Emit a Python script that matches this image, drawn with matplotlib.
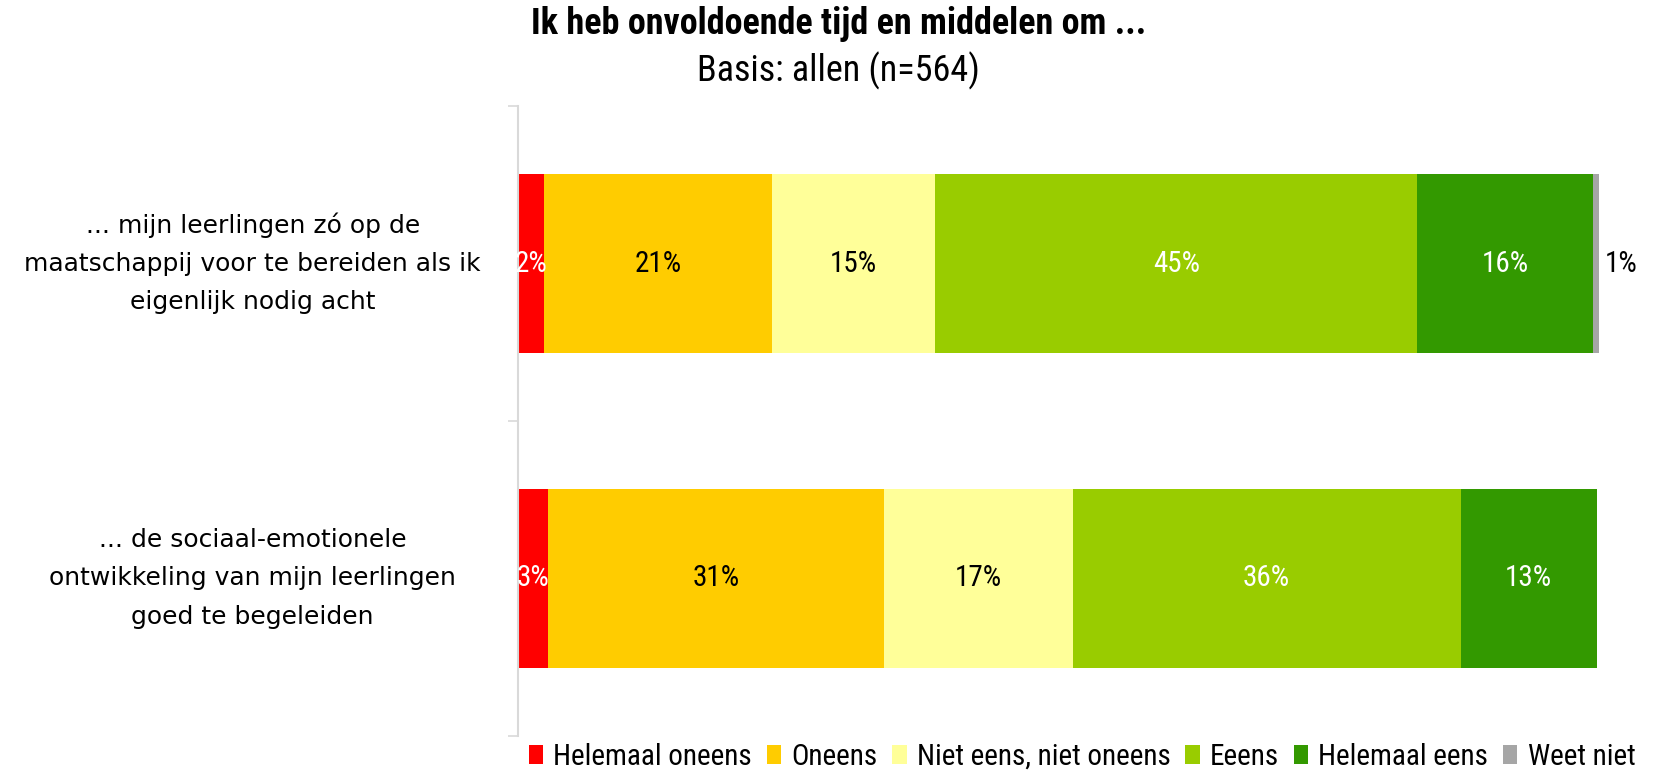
import matplotlib

matplotlib.use("Agg")
import matplotlib.pyplot as plt
from matplotlib import font_manager
from matplotlib.patches import Patch

ITEMS = [
    "... mijn leerlingen zó op de\nmaatschappij voor te bereiden als ik\neigenlijk nodig acht",
    "... de sociaal-emotionele\nontwikkeling van mijn leerlingen\ngoed te begeleiden",
]
CATEGORIES = [
    "Helemaal oneens",
    "Oneens",
    "Niet eens, niet oneens",
    "Eeens",
    "Helemaal eens",
    "Weet niet",
]
# percentage per category, one list per item
VALUES = [
    [2.4, 21.1, 15.1, 44.6, 16.2, 0.7],
    [2.8, 31.1, 17.4, 35.9, 12.6, 0.0],
]
COLORS = ["#FF0000", "#FFCC00", "#FFFF99", "#99CC00", "#339900", "#A6A6A6"]
LABEL_COLORS = ["white", "black", "black", "white", "white", "black"]
TITLE = "Ik heb onvoldoende tijd en middelen om ..."
SUBTITLE = "Basis: allen (n=564)"


def _pick_font(names):
    available = {f.name for f in font_manager.fontManager.ttflist}
    for name in names:
        if name in available:
            return name
    return "DejaVu Sans"


NARROW = _pick_font(["Liberation Sans Narrow", "Roboto Condensed", "Open Sans", "Roboto"])

fig = plt.figure(figsize=(16.65, 7.7), dpi=100)
ax = fig.add_axes([518 / 1665, 1 - 736 / 770, 1081 / 1665, 630 / 770])

for row, values in enumerate(VALUES):
    left = 0.0
    for idx, value in enumerate(values):
        if value <= 0:
            continue
        ax.barh(row, value, left=left, height=0.57, color=COLORS[idx], linewidth=0)
        text = f"{round(value):d}%"
        if value < 1.5:
            # too thin for a label inside, put it next to the bar
            ax.text(left + value + 0.4, row, text, ha="left", va="center",
                    fontsize=21, family=NARROW, color="black")
        else:
            ax.text(left + value / 2, row, text, ha="center", va="center",
                    fontsize=21, family=NARROW, color=LABEL_COLORS[idx])
        left += value

ax.set_xlim(0, 100)
ax.set_ylim(1.5, -0.5)
ax.set_xticks([])
ax.set_yticks(range(len(ITEMS)))
ax.set_yticklabels(ITEMS, fontsize=18, linespacing=1.75, ha="center", va="center")
ax.tick_params(axis="y", which="major", length=0, pad=191)
ax.set_yticks([-0.5, 0.5, 1.5], minor=True)
ax.tick_params(axis="y", which="minor", length=7, color="#D9D9D9", width=1.2)
for side in ("top", "right", "bottom"):
    ax.spines[side].set_visible(False)
ax.spines["left"].set_color("#D9D9D9")
ax.spines["left"].set_linewidth(1.5)

fig.text(839 / 1665, 1 - 24 / 770, TITLE, ha="center", va="center",
         fontsize=26, fontweight="bold", family=NARROW)
fig.text(838 / 1665, 1 - 71 / 770, SUBTITLE, ha="center", va="center",
         fontsize=26, family=NARROW)

handles = [Patch(facecolor=c, edgecolor="none") for c in COLORS]
fig.legend(handles, CATEGORIES, loc="center", bbox_to_anchor=(1082 / 1665, 1 - 757 / 770),
           ncol=6, frameon=False, prop={"family": NARROW, "size": 21},
           handlelength=0.5, handleheight=0.65, handletextpad=0.35, columnspacing=0.5,
           borderpad=0, borderaxespad=0)

fig.savefig("out.png", dpi=100)
